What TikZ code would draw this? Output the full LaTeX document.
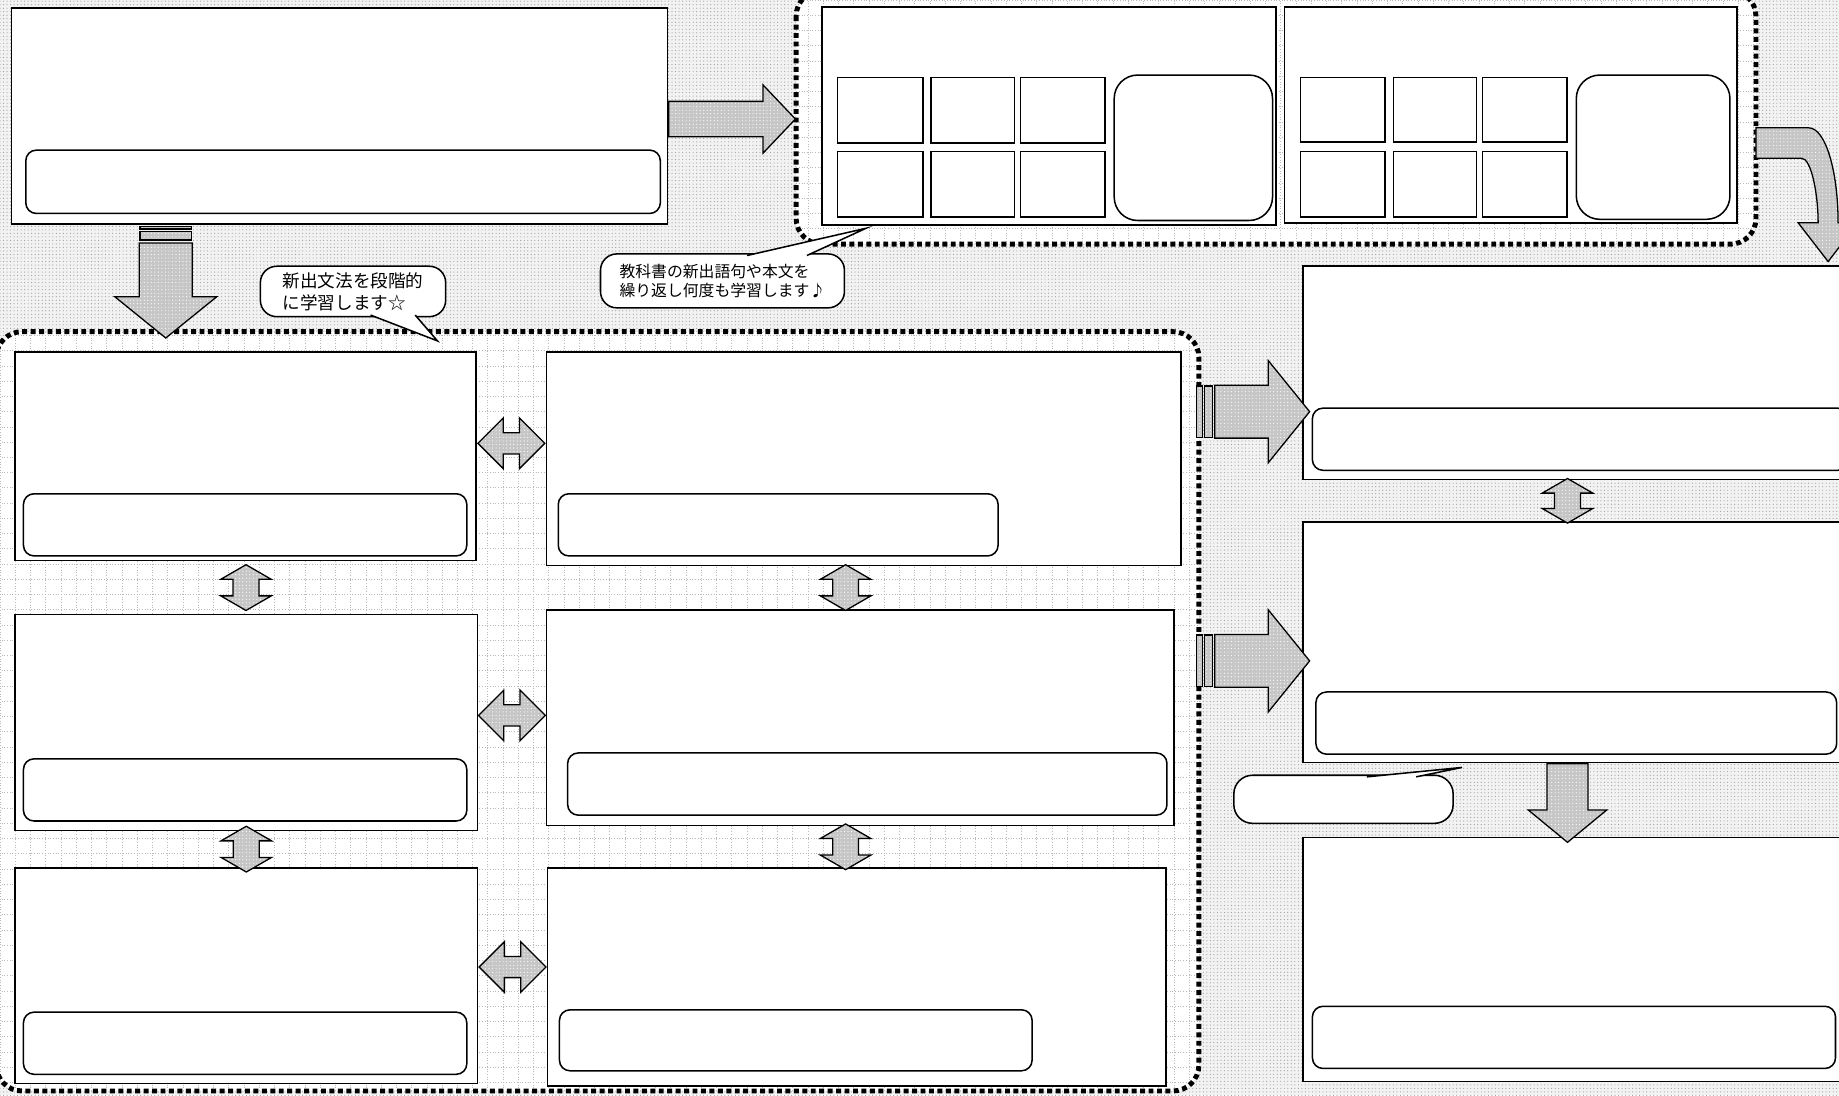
\documentclass[tikz,border=0pt]{standalone}
\usepackage{fontspec}
\newfontfamily\jpfont{Noto Sans CJK JP}
\usetikzlibrary{positioning,fit,calc,patterns,shapes.arrows}

\begin{document}
\begin{tikzpicture}[x=1pt,y=-1pt,
  panel/.style={draw,fill=white,line width=1.3pt,inner sep=0pt},
  slot/.style={draw,fill=white,rounded corners=9pt,line width=1.3pt,inner sep=0pt},
  tile/.style={draw,fill=white,line width=1.3pt,inner sep=0pt},
  screen/.style={draw,fill=white,rounded corners=20pt,line width=1.3pt,inner sep=0pt},
  zonefill/.style={fill=white,rounded corners=22pt,inner sep=0pt},
  zoneline/.style={line width=4.2pt,dash pattern=on 4.2pt off 3pt,rounded corners=22pt},
  gridline/.style={gray!55,line width=0.7pt,dash pattern=on 0.7pt off 1.6pt,xstep=13pt,ystep=13pt},
  arrowfill/.style={draw,line width=1.1pt,preaction={fill=gray!45},pattern=dots,pattern color=white},
  bigarrow/.style={arrowfill,single arrow,inner xsep=0pt,single arrow head indent=0pt},
  fat/.style={bigarrow,minimum height=81pt,inner ysep=22pt,single arrow head extend=21pt,single arrow tip angle=102},
  twoway/.style={arrowfill,double arrow,inner xsep=0pt,inner ysep=8.5pt,double arrow head extend=12.5pt,double arrow tip angle=90,double arrow head indent=0pt,minimum height=57pt},
  flat/.style={double arrow tip angle=120,inner ysep=10.5pt,double arrow head extend=10.5pt,minimum height=39pt},
  bubble/.style={draw,fill=white,line width=1.3pt,rounded corners=14pt,inner sep=0pt,align=left,font=\jpfont}
]
\useasboundingbox (0,0) rectangle (1568,934);
\clip (0,0) rectangle (1568,934);
\fill[gray!10] (0,0) rectangle (1568,934);
\fill[pattern=dots,pattern color=gray!75] (0,0) rectangle (1568,934);

\node[zonefill,fit={(679,-8) (1497,208)}] (flashzone) {};
\node[zonefill,fit={(-3,283) (1022,930)}] (grammarzone) {};
\begin{scope}
  \clip[rounded corners=22pt] (flashzone.north west) rectangle (flashzone.south east);
  \draw[gridline] (flashzone.north west) grid (flashzone.south east);
\end{scope}
\begin{scope}
  \clip[rounded corners=22pt] (grammarzone.north west) rectangle (grammarzone.south east);
  \draw[gridline] (grammarzone.north west) grid (grammarzone.south east);
\end{scope}

\node[panel,fit={(10,7) (569,191)}] (intro) {};
\node[slot,fit={(22,128) (563,182)}] (introslot) {};

\node[panel,fit={(701,6) (1088,192)}] (flashA) {};
\node[tile,fit={(714,66) (787,122)}] (tileA1) {};
\node[tile,fit={(794,66) (865,122)}] (tileA2) {};
\node[tile,fit={(870,66) (942,122)}] (tileA3) {};
\node[tile,fit={(714,129) (787,185)}] (tileA4) {};
\node[tile,fit={(794,129) (865,185)}] (tileA5) {};
\node[tile,fit={(870,129) (942,185)}] (tileA6) {};
\node[screen,fit={(950,64) (1085,188)}] (screenA) {};

\node[panel,fit={(1095,6) (1481,190)}] (flashB) {};
\node[tile,fit={(1109,66) (1181,121)}] (tileB1) {};
\node[tile,fit={(1188,66) (1259,121)}] (tileB2) {};
\node[tile,fit={(1264,66) (1336,121)}] (tileB3) {};
\node[tile,fit={(1109,129) (1181,185)}] (tileB4) {};
\node[tile,fit={(1188,129) (1259,185)}] (tileB5) {};
\node[tile,fit={(1264,129) (1336,185)}] (tileB6) {};
\node[screen,fit={(1344,64) (1475,187)}] (screenB) {};

\node[panel,fit={(13,300) (406,478)}] (gL1) {};
\node[slot,fit={(20,421) (398,474)}] (gL1slot) {};
\node[panel,fit={(13,524) (407,708)}] (gL2) {};
\node[slot,fit={(20,647) (398,700)}] (gL2slot) {};
\node[panel,fit={(13,740) (407,924)}] (gL3) {};
\node[slot,fit={(20,863) (398,916)}] (gL3slot) {};
\node[panel,fit={(466,300) (1007,482)}] (gM1) {};
\node[slot,fit={(476,421) (851,474)}] (gM1slot) {};
\node[panel,fit={(466,520) (1001,704)}] (gM2) {};
\node[slot,fit={(484,642) (995,695)}] (gM2slot) {};
\node[panel,fit={(467,740) (994,926)}] (gM3) {};
\node[slot,fit={(477,861) (880,913)}] (gM3slot) {};

\node[panel,fit={(1111,227) (1578,409)}] (stageA) {};
\node[slot,fit={(1119,348) (1576,401)}] (stageAslot) {};
\node[panel,fit={(1111,445) (1578,650)}] (stageB) {};
\node[slot,fit={(1122,590) (1566,643)}] (stageBslot) {};
\node[panel,fit={(1111,714) (1578,922)}] (stageC) {};
\node[slot,fit={(1119,858) (1565,911)}] (stageCslot) {};

\draw[zoneline] (flashzone.north west) rectangle (flashzone.south east);
\draw[zoneline] (grammarzone.north west) rectangle (grammarzone.south east);

\node[bigarrow,minimum height=108pt,inner ysep=14.5pt,single arrow head extend=14pt,single arrow tip angle=93,anchor=tail] (toflash) at ([yshift=-2.5pt]intro.east) {};
\node[fat,rotate=-90,anchor=tail] (drop) at ([xshift=132pt,yshift=-15pt]intro.south west) {};
\draw[arrowfill] ($(drop.tail)+(-22,-13.5)$) rectangle ($(drop.tail)+(22,-11.5)$);
\draw[arrowfill] ($(drop.tail)+(-22,-9)$) rectangle ($(drop.tail)+(22,-2)$);

\node[fat,anchor=tip] (toreviewA) at ([xshift=7pt,yshift=-33pt]stageA.west) {};
\draw[arrowfill] ($(toreviewA.tail)+(-15,-22)$) rectangle ($(toreviewA.tail)+(-10,22)$);
\draw[arrowfill] ($(toreviewA.tail)+(-8,-22)$) rectangle ($(toreviewA.tail)+(-1,22)$);
\node[fat,anchor=tip] (toreviewB) at ([xshift=7pt,yshift=-16pt]stageB.west) {};
\draw[arrowfill] ($(toreviewB.tail)+(-15,-22)$) rectangle ($(toreviewB.tail)+(-10,22)$);
\draw[arrowfill] ($(toreviewB.tail)+(-8,-22)$) rectangle ($(toreviewB.tail)+(-1,22)$);

\node[bigarrow,rotate=-90,minimum height=67pt,inner ysep=17pt,single arrow head extend=16pt,single arrow tip angle=101,anchor=tail] (tooutput) at ([xshift=-8pt]stageB.south) {};

\draw[arrowfill] ([yshift=-9pt]flashzone.east) -- ++(45,0) .. controls +(14,0) and +(0,-45) .. ++(25,81) -- ++(17,0) -- ++(-25.5,33) -- ++(-25.5,-33) -- ++(17,0) .. controls +(0,-25) and +(8,0) .. ++(-14,-55) -- ++(-39,0) -- cycle;

\node[twoway] (swap1) at ($(gL1.east)!0.5!(gM1.west)+(0,-12)$) {};
\node[twoway] (swap2) at ($(gL2.east)!0.5!(gM2.west)+(0,-4)$) {};
\node[twoway] (swap3) at ($(gL3.east)!0.5!(gM3.west)+(0,-8)$) {};
\node[twoway,flat,rotate=90] (stepL1) at ($(gL1.south)!0.5!(gL2.north)$) {};
\node[twoway,flat,rotate=90] (stepL2) at ($(gL2.south)!0.5!(gL3.north)$) {};
\node[twoway,flat,rotate=90] (stepM1) at ($(gM1.south)!0.5!(gM2.north)+(-14,0)$) {};
\node[twoway,flat,rotate=90] (stepM2) at ($(gM2.south)!0.5!(gM3.north)+(-11,0)$) {};
\node[twoway,flat,rotate=90,minimum height=38pt] (stepR) at ($(stageA.south)!0.5!(stageB.north)+(-8,0)$) {};

\node[bubble,minimum width=158pt,minimum height=43pt,font=\jpfont\fontsize{15}{19}\selectfont] (tipGrammar) at (301,248.5) {新出文法を段階的\\に学習します☆};
\fill[white] ([xshift=15pt,yshift=2pt]tipGrammar.south) -- ([xshift=72pt,yshift=-20pt]tipGrammar.south) -- ([xshift=53pt,yshift=2pt]tipGrammar.south) -- cycle;
\draw[line width=1.3pt] ([xshift=15pt,yshift=2pt]tipGrammar.south) -- ([xshift=72pt,yshift=-20pt]tipGrammar.south) -- ([xshift=53pt,yshift=2pt]tipGrammar.south);

\node[bubble,minimum width=208pt,minimum height=46pt,font=\jpfont\fontsize{13.5}{16}\selectfont] (tipFlash) at (616,239.5) {教科書の新出語句や本文を\\繰り返し何度も学習します♪};
\fill[white] ([xshift=21pt,yshift=-2pt]tipFlash.north) -- ([xshift=38pt,yshift=-2pt]flashA.south west) -- ([xshift=72pt,yshift=-2pt]tipFlash.north) -- cycle;
\draw[line width=1.3pt] ([xshift=21pt,yshift=-2pt]tipFlash.north) -- ([xshift=38pt,yshift=-2pt]flashA.south west) -- ([xshift=72pt,yshift=-2pt]tipFlash.north);

\node[bubble,rounded corners=16pt,minimum width=187pt,minimum height=41pt] (tipBlank) at (1145.5,681.5) {};
\fill[white] ([xshift=20pt,yshift=-2pt]tipBlank.north) -- ([xshift=101pt,yshift=6pt]tipBlank.north) -- ([xshift=62pt,yshift=-2pt]tipBlank.north) -- cycle;
\draw[line width=1.3pt] ([xshift=20pt,yshift=-2pt]tipBlank.north) -- ([xshift=101pt,yshift=6pt]tipBlank.north) -- ([xshift=62pt,yshift=-2pt]tipBlank.north);
\end{tikzpicture}
\end{document}
